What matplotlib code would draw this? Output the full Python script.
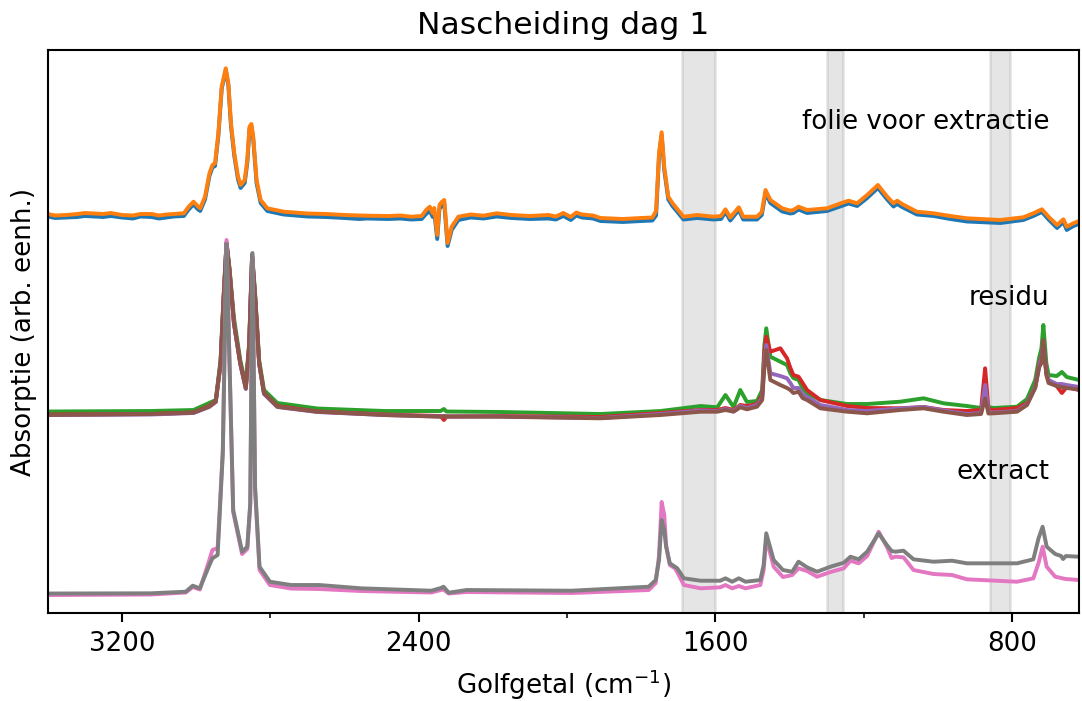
import numpy as np
import matplotlib
matplotlib.use("Agg")
import matplotlib.pyplot as plt
from matplotlib.ticker import MultipleLocator

folie_wn = [3400, 3380, 3350, 3320, 3300, 3250, 3230, 3200, 3170, 3150,
            3120, 3100, 3080, 3060, 3033, 3020, 3007, 2996, 2989, 2976,
            2964, 2956, 2949, 2940, 2931, 2920, 2913, 2906, 2897, 2887,
            2880, 2869, 2862, 2856, 2851, 2846, 2837, 2826, 2808, 2764,
            2700, 2650, 2600, 2560, 2540, 2480, 2450, 2420, 2392, 2380,
            2370, 2362, 2358, 2350, 2344, 2338, 2331, 2326, 2322, 2311,
            2293, 2260, 2225, 2190, 2150, 2100, 2050, 2030, 2010, 1990,
            1975, 1960, 1930, 1910, 1850, 1800, 1770, 1760, 1752, 1745,
            1738, 1727, 1716, 1708, 1686, 1649, 1605, 1585, 1573, 1560,
            1537, 1525, 1488, 1475, 1465, 1452, 1420, 1398, 1390, 1376,
            1353, 1299, 1260, 1241, 1218, 1191, 1162, 1137, 1120, 1110,
            1097, 1057, 1012, 967, 922, 832, 770, 743, 720, 702,
            679, 662, 653, 635, 620]
folie_blauw = [3.965, 3.95, 3.955, 3.96, 3.97, 3.96, 3.97, 3.955, 3.945, 3.965,
               3.96, 3.945, 3.955, 3.965, 3.97, 4.035, 4.085, 4.04, 4.02, 4.135,
               4.37, 4.455, 4.47, 4.77, 5.24, 5.43, 5.275, 4.87, 4.57, 4.335,
               4.25, 4.30, 4.50, 4.84, 4.87, 4.74, 4.30, 4.10, 4.02, 3.985,
               3.965, 3.96, 3.95, 3.94, 3.945, 3.94, 3.945, 3.935, 3.94, 3.99,
               4.02, 3.96, 4.01, 3.74, 4.04, 4.07, 4.09, 3.86, 3.67, 3.83,
               3.93, 3.955, 3.945, 3.965, 3.95, 3.94, 3.945, 3.935, 3.97, 3.93,
               3.975, 3.955, 3.945, 3.92, 3.91, 3.92, 3.925, 3.975, 4.57, 4.78,
               4.43, 4.135, 4.07, 4.035, 3.935, 3.95, 3.935, 3.94, 4.01, 3.925,
               4.03, 3.935, 3.935, 3.98, 4.20, 4.10, 4.015, 3.995, 4.00, 4.035,
               4.00, 4.02, 4.07, 4.095, 4.07, 4.15, 4.25, 4.135, 4.065, 4.09,
               4.06, 3.985, 3.97, 3.94, 3.915, 3.90, 3.93, 3.97, 4.01, 3.935,
               3.85, 3.91, 3.83, 3.87, 3.89]
folie_oranje = [3.99, 3.975, 3.98, 3.99, 4.00, 3.99, 4.00, 3.98, 3.975, 3.99,
                3.99, 3.975, 3.985, 3.99, 3.997, 4.063, 4.113, 4.07, 4.047, 4.163,
                4.397, 4.48, 4.497, 4.797, 5.263, 5.447, 5.297, 4.897, 4.597, 4.363,
                4.28, 4.33, 4.53, 4.863, 4.89, 4.763, 4.33, 4.13, 4.047, 4.013,
                3.995, 3.99, 3.98, 3.975, 3.973, 3.97, 3.975, 3.963, 3.97, 4.03,
                4.063, 3.997, 4.05, 3.78, 4.08, 4.11, 4.13, 3.897, 3.70, 3.863,
                3.963, 3.985, 3.973, 3.997, 3.98, 3.97, 3.98, 3.965, 4.00, 3.96,
                4.005, 3.985, 3.975, 3.95, 3.94, 3.95, 3.955, 4.02, 4.60, 4.807,
                4.46, 4.163, 4.10, 4.063, 3.963, 3.98, 3.963, 3.97, 4.037, 3.955,
                4.057, 3.963, 3.963, 4.01, 4.23, 4.13, 4.047, 4.023, 4.03, 4.063,
                4.03, 4.047, 4.10, 4.123, 4.097, 4.18, 4.28, 4.163, 4.097, 4.123,
                4.09, 4.013, 3.997, 3.97, 3.947, 3.93, 3.957, 3.997, 4.037, 3.963,
                3.88, 3.937, 3.863, 3.897, 3.92]

residu_wn = [3400, 3122, 3007, 2965, 2947, 2934, 2926, 2918, 2910, 2898,
             2881, 2866, 2857, 2849, 2841, 2830, 2817, 2781, 2673, 2493,
             2341, 2332, 2325, 2179, 1910, 1748, 1640, 1595, 1573, 1551, 1533,
             1515, 1488, 1474, 1468, 1463, 1452, 1425, 1407, 1398, 1390,
             1376, 1365, 1353, 1317, 1245, 1191, 1102, 1039, 985, 922,
             884, 873, 864, 850, 787, 760, 738, 727, 721, 716,
             708, 702, 680, 666, 653, 620]
residu_groen = [2.015, 2.02, 2.03, 2.10, 2.13, 2.53, 3.16, 3.71, 3.45, 2.95,
                2.53, 2.28, 2.70, 3.59, 3.20, 2.53, 2.23, 2.10, 2.045, 2.02,
                2.02, 2.04, 2.015, 2.01, 1.99, 2.02, 2.07, 2.057, 2.18, 2.06, 2.23,
                2.11, 2.12, 2.23, 2.68, 2.847, 2.563, 2.513, 2.48, 2.397, 2.35,
                2.33, 2.25, 2.197, 2.13, 2.09, 2.09, 2.113, 2.147, 2.097, 2.07,
                2.05, 2.13, 2.06, 2.05, 2.063, 2.14, 2.33, 2.56, 2.65, 2.88,
                2.50, 2.38, 2.37, 2.41, 2.36, 2.33]
residu_rood = [1.985, 1.99, 2.005, 2.07, 2.12, 2.50, 3.13, 3.695, 3.43, 2.90,
               2.50, 2.25, 2.67, 3.57, 3.17, 2.50, 2.20, 2.07, 2.015, 1.985,
               1.97, 1.93, 1.965, 1.97, 1.96, 2.00, 2.03, 2.03, 2.05, 2.03, 2.08,
               2.07, 2.09, 2.18, 2.61, 2.763, 2.613, 2.647, 2.547, 2.45, 2.38,
               2.363, 2.30, 2.23, 2.13, 2.07, 2.05, 2.047, 2.06, 2.03, 2.02,
               2.03, 2.447, 2.04, 2.03, 2.05, 2.10, 2.26, 2.50, 2.56, 2.697,
               2.40, 2.33, 2.27, 2.20, 2.26, 2.23]
residu_paars = [1.98, 1.985, 2.00, 2.06, 2.11, 2.49, 3.13, 3.69, 3.42, 2.90,
                2.49, 2.24, 2.66, 3.565, 3.16, 2.49, 2.19, 2.06, 2.01, 1.98,
                1.965, 1.97, 1.965, 1.965, 1.95, 1.99, 2.025, 2.02, 2.04, 2.02, 2.07,
                2.05, 2.08, 2.15, 2.53, 2.68, 2.397, 2.37, 2.347, 2.30, 2.25,
                2.25, 2.19, 2.16, 2.08, 2.03, 2.02, 2.045, 2.06, 2.025, 1.99,
                2.00, 2.28, 2.01, 2.005, 2.02, 2.09, 2.26, 2.48, 2.55, 2.713,
                2.40, 2.33, 2.29, 2.29, 2.28, 2.26]
residu_bruin = [1.98, 1.99, 2.003, 2.063, 2.113, 2.497, 3.13, 3.697, 3.43, 2.897,
                2.497, 2.247, 2.663, 3.57, 3.163, 2.497, 2.197, 2.063, 2.013, 1.98,
                1.963, 1.97, 1.965, 1.963, 1.947, 1.98, 2.013, 2.013, 2.03, 2.013, 2.057,
                2.037, 2.063, 2.13, 2.463, 2.63, 2.33, 2.28, 2.25, 2.23, 2.20,
                2.213, 2.15, 2.13, 2.047, 2.013, 1.997, 2.03, 2.047, 2.013, 1.98,
                1.99, 2.147, 1.995, 1.997, 2.013, 2.08, 2.25, 2.46, 2.50, 2.73,
                2.38, 2.30, 2.27, 2.26, 2.25, 2.235]

extract_wn = [3400, 3122, 3028, 3009, 2990, 2966, 2956, 2942, 2928, 2918,
              2900, 2876, 2862, 2854, 2848, 2841, 2829, 2801, 2744, 2668,
              2555, 2366, 2340, 2333, 2319, 2271, 1988, 1780, 1761, 1752,
              1745, 1738, 1733, 1723, 1709, 1703, 1685, 1640, 1587, 1573,
              1555, 1537, 1519, 1479, 1470, 1463, 1443, 1418, 1393, 1376,
              1353, 1326, 1290, 1254, 1236, 1214, 1191, 1160, 1138, 1125,
              1115, 1093, 1066, 1012, 962, 922, 787, 743, 729, 718,
              707, 684, 668, 663, 655, 620]
extract_roze = [0.18, 0.185, 0.205, 0.26, 0.235, 0.51, 0.63, 0.65, 1.63, 3.73,
                1.01, 0.59, 0.64, 1.08, 3.55, 1.23, 0.43, 0.28, 0.245, 0.24,
                0.22, 0.205, 0.23, 0.235, 0.195, 0.21, 0.20, 0.23, 0.30, 0.58,
                1.11, 0.98, 0.68, 0.48, 0.447, 0.41, 0.28, 0.247, 0.257, 0.28,
                0.247, 0.27, 0.247, 0.28, 0.43, 0.747, 0.463, 0.36, 0.38, 0.447,
                0.42, 0.363, 0.41, 0.447, 0.523, 0.497, 0.57, 0.813, 0.663, 0.55,
                0.563, 0.557, 0.43, 0.39, 0.38, 0.337, 0.313, 0.347, 0.50, 0.663,
                0.463, 0.363, 0.35, 0.345, 0.34, 0.33]
extract_grijs = [0.195, 0.197, 0.213, 0.273, 0.247, 0.463, 0.547, 0.58, 1.597, 3.69,
                 1.03, 0.613, 0.663, 1.097, 3.60, 1.263, 0.463, 0.313, 0.28, 0.28,
                 0.247, 0.223, 0.25, 0.263, 0.203, 0.23, 0.223, 0.263, 0.33, 0.53,
                 0.93, 0.83, 0.663, 0.497, 0.463, 0.447, 0.347, 0.323, 0.323, 0.347,
                 0.313, 0.347, 0.313, 0.33, 0.48, 0.797, 0.53, 0.43, 0.413, 0.513,
                 0.457, 0.413, 0.463, 0.503, 0.563, 0.537, 0.613, 0.797, 0.68, 0.62,
                 0.613, 0.623, 0.537, 0.513, 0.523, 0.497, 0.497, 0.537, 0.747, 0.863,
                 0.663, 0.59, 0.57, 0.54, 0.57, 0.563]

# gemarkeerde gebieden (cm-1)
banden = [(1600, 1690), (1255, 1300), (805, 860)]

fig = plt.figure(figsize=(1082/188, 701/188), dpi=188)
ax = fig.add_axes([0.0441, 0.1255, 0.9531, 0.8032])

for lo, hi in banden:
    ax.axvspan(lo, hi, color='gray', alpha=0.2)

ax.plot(folie_wn, folie_blauw, color='C0')
ax.plot(folie_wn, folie_oranje, color='C1')
ax.plot(residu_wn, residu_groen, color='C2')
ax.plot(residu_wn, residu_rood, color='C3')
ax.plot(residu_wn, residu_paars, color='C4')
ax.plot(residu_wn, residu_bruin, color='C5')
ax.plot(extract_wn, extract_roze, color='C6')
ax.plot(extract_wn, extract_grijs, color='C7')

ax.text(700, 4.91, 'folie voor extractie', ha='right', va='center')
ax.text(700, 3.15, 'residu', ha='right', va='center')
ax.text(700, 1.41, 'extract', ha='right', va='center')

ax.set_xlim(3400, 620)
ax.set_ylim(0, 5.63)
ax.xaxis.set_major_locator(MultipleLocator(800))
ax.xaxis.set_minor_locator(MultipleLocator(400))
ax.set_yticks([])
ax.set_xlabel(r'Golfgetal (cm$^{-1}$)')
ax.set_ylabel('Absorptie (arb. eenh.)')
ax.set_title('Nascheiding dag 1')

fig.savefig('out.png', dpi=188)
